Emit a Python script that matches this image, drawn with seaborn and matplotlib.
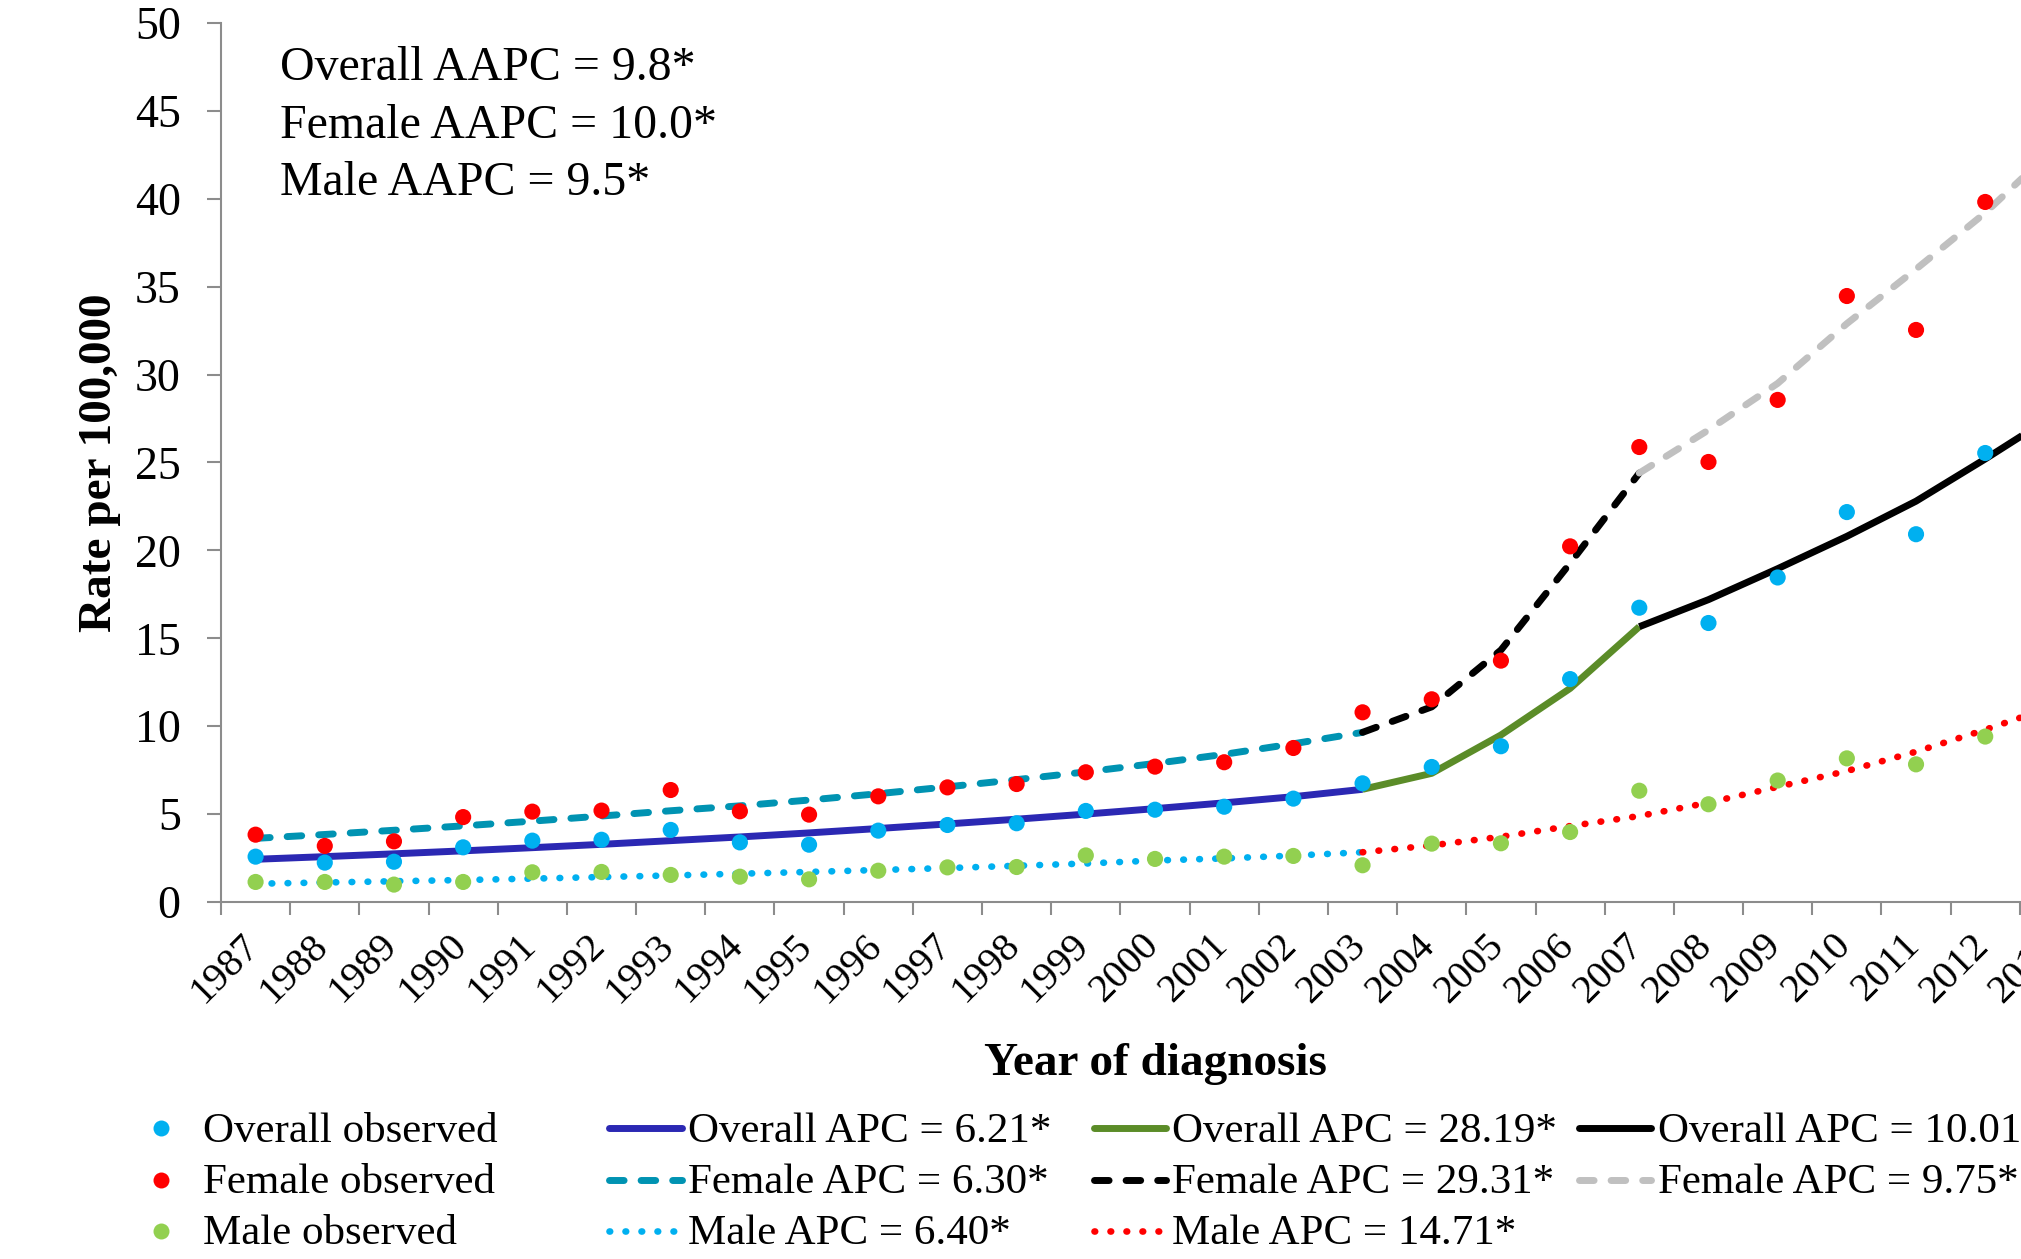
import numpy as np
import pandas as pd
import matplotlib
matplotlib.use("Agg")
import matplotlib.pyplot as plt
from matplotlib.lines import Line2D
from matplotlib.transforms import ScaledTranslation
import seaborn as sns

# ---------------- data ----------------
obs_years = list(range(1987, 2013))
overall_obs = [2.58, 2.24, 2.29, 3.11, 3.49, 3.54, 4.10, 3.39, 3.26, 4.06, 4.38, 4.48, 5.18,
               5.25, 5.42, 5.88, 6.75, 7.68, 8.86, 12.68, 16.74, 15.87, 18.46, 22.18, 20.92, 25.54]
female_obs = [3.83, 3.19, 3.45, 4.83, 5.14, 5.20, 6.37, 5.16, 4.97, 6.01, 6.52, 6.71, 7.38,
              7.70, 7.95, 8.76, 10.79, 11.53, 13.73, 20.23, 25.88, 25.03, 28.56, 34.47, 32.54, 39.82]
male_obs = [1.14, 1.14, 0.99, 1.14, 1.69, 1.71, 1.54, 1.44, 1.29, 1.78, 1.97, 1.99, 2.65,
            2.45, 2.58, 2.62, 2.09, 3.32, 3.34, 3.98, 6.33, 5.56, 6.91, 8.17, 7.83, 9.41]

seg1_years = list(range(1987, 2004))
seg2_years = list(range(2003, 2008))
seg3_years = list(range(2007, 2014))
male2_years = list(range(2003, 2014))

overall_fit1 = [2.43, 2.58, 2.74, 2.91, 3.09, 3.28, 3.49, 3.70, 3.93, 4.18, 4.44, 4.71, 5.00,
                5.31, 5.64, 5.99, 6.41]
overall_fit2 = [6.41, 7.32, 9.50, 12.15, 15.66]
overall_fit3 = [15.66, 17.20, 18.96, 20.80, 22.80, 25.20, 27.70]
female_fit1 = [3.62, 3.84, 4.08, 4.33, 4.60, 4.89, 5.19, 5.47, 5.80, 6.16, 6.55, 6.96, 7.40,
               7.88, 8.40, 9.00, 9.65]
female_fit2 = [9.65, 11.10, 14.33, 19.27, 24.40]
female_fit3 = [24.40, 26.85, 29.50, 32.90, 36.00, 39.20, 42.90]
male_fit1 = [1.04, 1.11, 1.18, 1.25, 1.33, 1.42, 1.51, 1.61, 1.71, 1.82, 1.93, 2.06, 2.19,
             2.36, 2.48, 2.64, 2.83]
male_fit2 = [2.83, 3.22, 3.71, 4.32, 4.89, 5.65, 6.55, 7.45, 8.55, 9.80, 11.15]

tick_years = list(range(1987, 2014))
y_ticks = list(range(0, 55, 5))

aapc_lines = ["Overall AAPC = 9.8*", "Female AAPC = 10.0*", "Male AAPC = 9.5*"]

# ---------------- style ----------------
sns.set_theme(style="white")
plt.rcParams["font.family"] = ["Liberation Serif", "DejaVu Serif"]
plt.rcParams["text.color"] = "black"
plt.rcParams["axes.labelcolor"] = "black"
plt.rcParams["xtick.color"] = "black"
plt.rcParams["ytick.color"] = "black"

W, H = 2021, 1259
fig = plt.figure(figsize=(W / 100, H / 100), dpi=100)

ax_left, ax_right, ax_top, ax_bottom = 221, 2089, 23, 902
ax = fig.add_axes([ax_left / W, 1 - ax_bottom / H, (ax_right - ax_left) / W, (ax_bottom - ax_top) / H])

def fx(x):
    return x / W

def fy(y):
    return 1 - y / H

C_BLUE = "#00B0F0"
C_RED = "#FF0000"
C_GREEN = "#92D050"
C_NAVY = "#2B28B3"
C_TEAL = "#0093B2"
C_OLIVE = "#5B8C28"
C_BLACK = "#000000"
C_GREY = "#C0C0C0"
C_AXIS = "#8C8C8C"

LW = 5.0
DLW = 4.8
DASH = (0, (2.1, 2.45))
DOT = (0, (0.1, 2.3))

line_specs = [
    (seg1_years, overall_fit1, C_NAVY, "-", LW),
    (seg2_years, overall_fit2, C_OLIVE, "-", LW),
    (seg3_years, overall_fit3, C_BLACK, "-", LW),
    (seg1_years, female_fit1, C_TEAL, DASH, LW),
    (seg2_years, female_fit2, C_BLACK, DASH, LW),
    (seg3_years, female_fit3, C_GREY, DASH, LW),
    (seg1_years, male_fit1, C_BLUE, DOT, DLW),
    (male2_years, male_fit2, C_RED, DOT, DLW),
]
for xs, ys, col, ls, lw in line_specs:
    df = pd.DataFrame({"year": xs, "rate": ys})
    sns.lineplot(data=df, x="year", y="rate", color=col, linewidth=lw, linestyle=ls,
                 dash_capstyle="round", solid_capstyle="butt", errorbar=None,
                 legend=False, ax=ax, zorder=2)

obs_df = pd.DataFrame({"year": obs_years, "overall": overall_obs,
                       "female": female_obs, "male": male_obs})
for col_name, col in [("overall", C_BLUE), ("female", C_RED), ("male", C_GREEN)]:
    sns.scatterplot(data=obs_df, x="year", y=col_name, color=col, s=135, edgecolor="none",
                    linewidth=0, legend=False, ax=ax, zorder=4)

# ---------------- axes ----------------
ax.set_xlim(1986.5, 2013.5)
ax.set_ylim(0, 50)
ax.set_xlabel("")
ax.set_ylabel("")
for s in ["top", "right"]:
    ax.spines[s].set_visible(False)
for s in ["left", "bottom"]:
    ax.spines[s].set_color(C_AXIS)
    ax.spines[s].set_linewidth(1.5)

ax.set_yticks(y_ticks)
ax.set_yticklabels([str(v) for v in y_ticks], fontsize=33)
ax.tick_params(axis="y", which="major", direction="out", length=10, width=1.5,
               color=C_AXIS, labelcolor="black", pad=19, left=True)

ax.set_xticks(tick_years)
ax.set_xticklabels([str(y) for y in tick_years], fontsize=29, rotation=45, ha="right", va="top")
ax.set_xticks([y - 0.5 for y in tick_years] + [2013.5], minor=True)
ax.tick_params(axis="x", which="major", length=0, pad=18, bottom=True, labelcolor="black")
ax.tick_params(axis="x", which="minor", direction="out", length=9, width=1.5,
               color=C_AXIS, bottom=True)
shift = ScaledTranslation(0.11, 0, fig.dpi_scale_trans)
for lbl in ax.get_xticklabels():
    lbl.set_transform(lbl.get_transform() + shift)
ax.grid(False)

# ---------------- text ----------------
for txt, base in zip(aapc_lines, [80, 137.5, 195]):
    fig.text(fx(280), fy(base), txt, fontsize=34.5, va="baseline", ha="left", color="black")

fig.text(fx(100), fy(463), "Rate per 100,000", rotation=90, fontsize=34,
         fontweight="bold", ha="center", va="center", color="black")
fig.text(fx(1155), fy(1075), "Year of diagnosis", fontsize=34, fontweight="bold",
         ha="center", va="baseline", color="black")

# ---------------- legend (drawn in figure coordinates) ----------------
row_mid = [1128, 1180, 1231]
row_base = [1141.7, 1193, 1244]
LEG_FS = 31

col1 = [("Overall observed", C_BLUE), ("Female observed", C_RED), ("Male observed", C_GREEN)]
for (lab, col), ym, yb in zip(col1, row_mid, row_base):
    fig.add_artist(Line2D([fx(161)], [fy(ym)], marker="o", markersize=11.5, color=col,
                          markeredgewidth=0, linestyle="none", transform=fig.transFigure))
    fig.text(fx(202.7), fy(yb), lab, fontsize=LEG_FS, va="baseline", ha="left", color="black")

line_cols = [
    (609, 682, 687.5, [("Overall APC = 6.21*", C_NAVY, "-", LW),
                       ("Female APC = 6.30*", C_TEAL, DASH, LW),
                       ("Male APC = 6.40*", C_BLUE, DOT, DLW)]),
    (1094, 1166, 1172.5, [("Overall APC = 28.19*", C_OLIVE, "-", LW),
                          ("Female APC = 29.31*", C_BLACK, DASH, LW),
                          ("Male APC = 14.71*", C_RED, DOT, DLW)]),
    (1579, 1651, 1657.5, [("Overall APC = 10.01*", C_BLACK, "-", LW),
                          ("Female APC = 9.75*", C_GREY, DASH, LW)]),
]
for x0, x1, xt, entries in line_cols:
    for (lab, col, ls, lw), ym, yb in zip(entries, row_mid, row_base):
        fig.add_artist(Line2D([fx(x0), fx(x1)], [fy(ym), fy(ym)], color=col, linewidth=lw,
                              linestyle=ls, dash_capstyle="round", solid_capstyle="round",
                              transform=fig.transFigure))
        fig.text(fx(xt), fy(yb), lab, fontsize=LEG_FS, va="baseline", ha="left", color="black")

fig.savefig("out.png", dpi=100)
